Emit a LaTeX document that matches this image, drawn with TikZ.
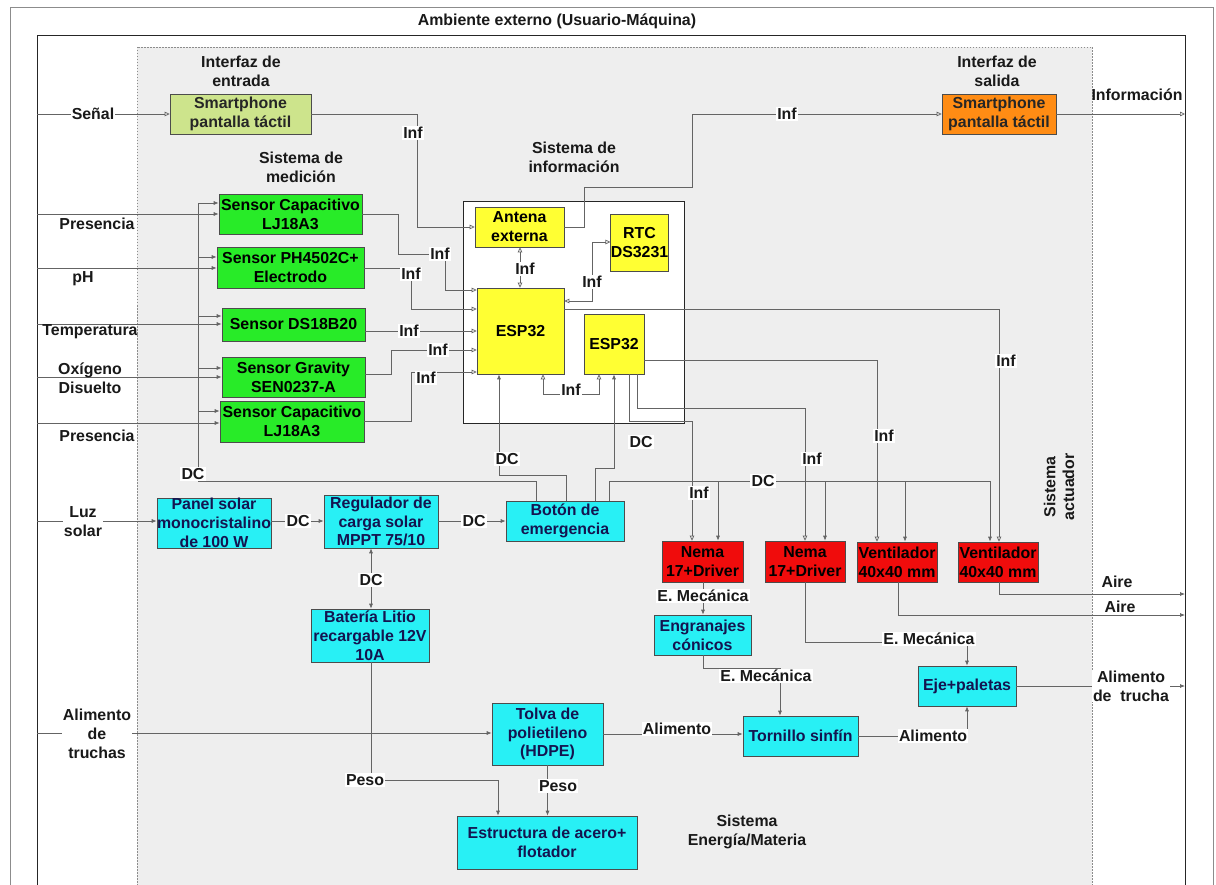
\documentclass[tikz,border=0pt]{standalone}
\usepackage{fontspec}
\setmainfont{Liberation Sans}
\usetikzlibrary{arrows.meta}
\definecolor{grn}{RGB}{40,235,40}
\definecolor{ylw}{RGB}{255,255,51}
\definecolor{cyn}{RGB}{40,240,245}
\definecolor{redbx}{RGB}{240,12,12}
\definecolor{org}{RGB}{255,140,20}
\definecolor{lgr}{RGB}{205,228,140}
\definecolor{bgg}{RGB}{238,238,238}
\definecolor{navytxt}{RGB}{20,20,80}
\definecolor{linec}{RGB}{100,100,100}
\begin{document}
\begin{tikzpicture}[x=1pt,y=-1pt,
  txt/.style={font=\bfseries\fontsize{15.9}{18.8}\selectfont, align=center},
  box/.style={txt, draw=black!70, line width=0.6pt, inner sep=0pt},
  ttl/.style={txt, text=black!90, inner sep=0pt},
  lbl/.style={txt, fill=white, inner sep=1.2pt, text=black!90},
  lbln/.style={txt, inner sep=0pt, text=black!90},
  conn/.style={draw=linec, line width=0.7pt},
  oa/.style={conn, -{Triangle[open,length=5pt,width=4.5pt]}},
  oab/.style={conn, {Triangle[open,length=5pt,width=4.5pt]}-{Triangle[open,length=5pt,width=4.5pt]}},
  fa/.style={conn, -{Latex[length=5pt,width=4pt]}},
  fab/.style={conn, {Latex[length=5pt,width=4pt]}-{Latex[length=5pt,width=4pt]}}
]
\useasboundingbox (0,0) rectangle (1216,885);
\fill[white] (0,0) rectangle (1216,885);
% frames
\draw[black!45, line width=0.6pt] (10,885) -- (10,7) -- (1213,7) -- (1213,885);
\draw[black!85, line width=0.8pt] (37,885) -- (37,35) -- (1185,35) -- (1185,885);
\node[ttl] (tamb) at (557,21) {Ambiente externo (Usuario-Máquina)};
\filldraw[fill=bgg, draw=black!45, dash pattern=on 1.5pt off 1.5pt, line width=0.5pt] (137,47) rectangle (1092,892);
\filldraw[fill=white, draw=black!85, line width=0.7pt] (463,201) rectangle (684,423);

% section titles
\node[ttl] (tie) at (241,71) {Interfaz de\\entrada};
\node[ttl] (tis) at (997,71) {Interfaz de\\salida};
\node[ttl] (tsm) at (301,167) {Sistema de\\medición};
\node[ttl] (tsi) at (574,157) {Sistema de\\información};
\node[ttl] (tse) at (747,832) {Sistema\\Energía/Materia};
\node[ttl, rotate=90] (tsa) at (1059,487) {Sistema\\actuador};

% nodes
\node[box, fill=lgr, text=black!85, minimum width=141pt, minimum height=40pt] (inS) at (240.5,114) {Smartphone\\pantalla táctil};
\node[box, fill=org, text=black!85, minimum width=114pt, minimum height=40pt] (outS) at (999,114) {Smartphone\\pantalla táctil};
\node[box, fill=ylw, minimum width=89pt, minimum height=40pt] (ant) at (519.5,227) {Antena\\externa};
\node[box, fill=ylw, minimum width=57pt, minimum height=57pt] (rtc) at (639.5,242.5) {RTC\\DS3231};
\node[box, fill=ylw, minimum width=87pt, minimum height=86pt] (esp1) at (520.5,331) {ESP32};
\node[box, fill=ylw, minimum width=60pt, minimum height=60pt] (esp2) at (614,344) {ESP32};
\node[box, fill=grn, minimum width=143pt, minimum height=40pt] (s1) at (290.5,214) {Sensor Capacitivo\\LJ18A3};
\node[box, fill=grn, minimum width=147pt, minimum height=41pt] (s2) at (290.5,267.5) {Sensor PH4502C+\\Electrodo};
\node[box, fill=grn, minimum width=143pt, minimum height=33pt] (s3) at (293.5,324.5) {Sensor DS18B20};
\node[box, fill=grn, minimum width=143pt, minimum height=40pt] (s4) at (293.5,377) {Sensor Gravity\\SEN0237-A};
\node[box, fill=grn, minimum width=144pt, minimum height=41pt] (s5) at (292,421.5) {Sensor Capacitivo\\LJ18A3};
\node[box, fill=cyn, text=navytxt, minimum width=114pt, minimum height=50pt] (panel) at (214,523) {Panel solar\\monocristalino\\de 100 W};
\node[box, fill=cyn, text=navytxt, minimum width=114pt, minimum height=53pt] (reg) at (381,521.5) {Regulador de\\carga solar\\MPPT 75/10};
\node[box, fill=cyn, text=navytxt, minimum width=118pt, minimum height=40pt] (boton) at (565,521) {Botón de\\emergencia};
\node[box, fill=cyn, text=navytxt, minimum width=118pt, minimum height=53pt] (bat) at (370,635.5) {Batería Litio\\recargable 12V\\10A};
\node[box, fill=redbx, minimum width=81pt, minimum height=41pt] (nema1) at (702.5,561.5) {Nema\\17+Driver};
\node[box, fill=redbx, minimum width=80pt, minimum height=41pt] (nema2) at (805,561.5) {Nema\\17+Driver};
\node[box, fill=redbx, minimum width=80pt, minimum height=40pt] (vent1) at (897,562) {Ventilador\\40x40 mm};
\node[box, fill=redbx, minimum width=80pt, minimum height=40pt] (vent2) at (998,562) {Ventilador\\40x40 mm};
\node[box, fill=cyn, text=navytxt, minimum width=97pt, minimum height=40pt] (eng) at (702.5,635) {Engranajes\\cónicos};
\node[box, fill=cyn, text=navytxt, minimum width=115pt, minimum height=40pt] (torn) at (800.5,736) {Tornillo sinfín};
\node[box, fill=cyn, text=navytxt, minimum width=98pt, minimum height=40pt] (eje) at (967,686) {Eje+paletas};
\node[box, fill=cyn, text=navytxt, minimum width=111pt, minimum height=62pt] (tolva) at (547.5,734) {Tolva de\\polietileno\\(HDPE)};
\node[box, fill=cyn, text=navytxt, minimum width=180pt, minimum height=53pt] (estr) at (547,842.5) {Estructura de acero+\\flotador};

% external inputs
\draw[oa] (37,114) -- (inS.west);
\draw[fa] (37,214) -- (s1.west |- 0,214);
\draw[fa] (37,268) -- (s2.west |- 0,268);
\draw[fa] (37,324) -- (s3.west |- 0,324);
\draw[fa] (37,377) -- (s4.west |- 0,377);
\draw[fa] (37,423) -- (s5.west |- 0,423);
\draw[fa] (37,521) -- (panel.west |- 0,521);
\draw[fa] (37,733) -- (tolva.west |- 0,733);

% information
\draw[oa] (inS.east) -- (417,114) -- (417,227) -- (ant.west);
\draw[oa] (ant.east) -- (584,227) -- (584,187) -- (692,187) -- (692,114) -- (outS.west);
\draw[oa] (outS.east) -- (1185,114);
\draw[oab] (esp1.north -| 520,0) -- (ant.south -| 520,0);
\draw[oab] (esp1.east |- 0,301) -- (592,301) -- (592,242) -- (rtc.west |- 0,242);
\draw[oab] (esp1.south -| 543,0) -- (543,394) -- (599,394) -- (esp2.south -| 599,0);
\draw[oa] (s1.east) -- (398,214) -- (398,254) -- (445,254) -- (445,290) -- (esp1.west |- 0,290);
\draw[oa] (s2.east |- 0,268) -- (411,268) -- (411,309) -- (esp1.west |- 0,309);
\draw[oa] (s3.east |- 0,331) -- (esp1.west |- 0,331);
\draw[oa] (s4.east |- 0,374) -- (391,374) -- (391,350) -- (esp1.west |- 0,350);
\draw[oa] (s5.east |- 0,421) -- (411,421) -- (411,372) -- (esp1.west |- 0,372);
\draw[oa] (esp1.east |- 0,309) -- (999,309) -- (vent2.north -| 999,0);
\draw[oa] (esp2.east |- 0,360) -- (877,360) -- (vent1.north -| 877,0);
\draw[oa] (esp2.south -| 637,0) -- (637,408) -- (805,408) -- (nema2.north -| 805,0);
\draw[oa] (esp2.south -| 629,0) -- (629,421) -- (692,421) -- (nema1.north -| 692,0);

% DC power
\draw[fa] (panel.east |- 0,521) -- (reg.west |- 0,521);
\draw[fa] (reg.east |- 0,521) -- (boton.west);
\draw[fab] (reg.south -| 371,0) -- (bat.north -| 371,0);
\draw[fa] (boton.north -| 536,0) -- (536,481) -- (198,481) -- (198,203) -- (s1.west |- 0,203);
\draw[fa] (198,257) -- (s2.west |- 0,257);
\draw[fa] (198,316) -- (s3.west |- 0,316);
\draw[fa] (198,368) -- (s4.west |- 0,368);
\draw[fa] (198,411) -- (s5.west |- 0,411);
\draw[fa] (boton.north -| 566,0) -- (566,475) -- (499,475) -- (esp1.south -| 499,0);
\draw[fa] (boton.north -| 595,0) -- (595,468) -- (614,468) -- (esp2.south -| 614,0);
\draw[fa] (boton.north -| 609,0) -- (609,481) -- (990,481) -- (vent2.north -| 990,0);
\draw[fa] (718,481) -- (nema1.north -| 718,0);
\draw[fa] (825,481) -- (nema2.north -| 825,0);
\draw[fa] (905,481) -- (vent1.north -| 905,0);

% matter / mechanics
\draw[fa] (bat.south -| 371,0) -- (371,780) -- (498,780) -- (estr.north -| 498,0);
\draw[fa] (tolva.south) -- (estr.north -| tolva.south);
\draw[fa] (tolva.east |- 0,734) -- (torn.west |- 0,734);
\draw[fa] (nema1.south -| 703,0) -- (eng.north -| 703,0);
\draw[fa] (eng.south -| 703,0) -- (703,668) -- (780,668) -- (torn.north -| 780,0);
\draw[fa] (nema2.south -| 805,0) -- (805,642) -- (967,642) -- (eje.north);
\draw[fa] (torn.east) -- (967,736) -- (eje.south);
\draw[fa] (eje.east) -- (1185,686);
\draw[fa] (vent2.south -| 999,0) -- (999,594) -- (1185,594);
\draw[fa] (vent1.south -| 898,0) -- (898,615) -- (1185,615);

% labels
\node[lbl] (lsen) at (93,114) {Señal};
\node[lbln] (lpr1) at (97,224) {Presencia};
\node[lbln] (lph) at (83,279) {pH};
\node[lbln] (ltem) at (90,332) {Temperatura};
\node[lbln] (loxi) at (90,378) {Oxígeno\\Disuelto};
\node[lbln] (lpr2) at (97,436) {Presencia};
\node[lbl] (lluz) at (83,522) {Luz\\solar};
\node[lbl] (lali) at (97,734) {Alimento\\de\\truchas};
\node[lbln] (linfo) at (1137,95) {Información};
\node[lbl] (li1) at (413,133) {Inf};
\node[lbl] (li2) at (787,114) {Inf};
\node[lbl] (li3) at (525,269) {Inf};
\node[lbl] (li4) at (592,282) {Inf};
\node[lbl] (li5) at (571,390) {Inf};
\node[lbl] (li6) at (440,254) {Inf};
\node[lbl] (li7) at (411,274) {Inf};
\node[lbl] (li8) at (409,331) {Inf};
\node[lbl] (li9) at (438,350) {Inf};
\node[lbl] (li10) at (426,378) {Inf};
\node[lbl] (li11) at (1006,361) {Inf};
\node[lbl] (li12) at (884,436) {Inf};
\node[lbl] (li13) at (812,459) {Inf};
\node[lbl] (li14) at (699,493) {Inf};
\node[lbl] (ld1) at (193,474) {DC};
\node[lbl] (ld2) at (507,459) {DC};
\node[lbl] (ld3) at (641,442) {DC};
\node[lbl] (ld4) at (763,481) {DC};
\node[lbl] (ld5) at (298,521) {DC};
\node[lbl] (ld6) at (474,521) {DC};
\node[lbl] (ld7) at (371,580) {DC};
\node[lbl] (lpe1) at (365,780) {Peso};
\node[lbl] (lpe2) at (558,786) {Peso};
\node[lbl] (lal1) at (677,729) {Alimento};
\node[lbl] (lal2) at (933,736) {Alimento};
\node[lbl] (lem1) at (703,596) {E. Mecánica};
\node[lbl] (lem2) at (766,676) {E. Mecánica};
\node[lbl] (lem3) at (929,639) {E. Mecánica};
\node[lbl] (lal3) at (1131,686) {Alimento\\de\ \ trucha};
\node[lbln] (lai1) at (1117,582) {Aire};
\node[lbln] (lai2) at (1120,607) {Aire};
\end{tikzpicture}
\end{document}
